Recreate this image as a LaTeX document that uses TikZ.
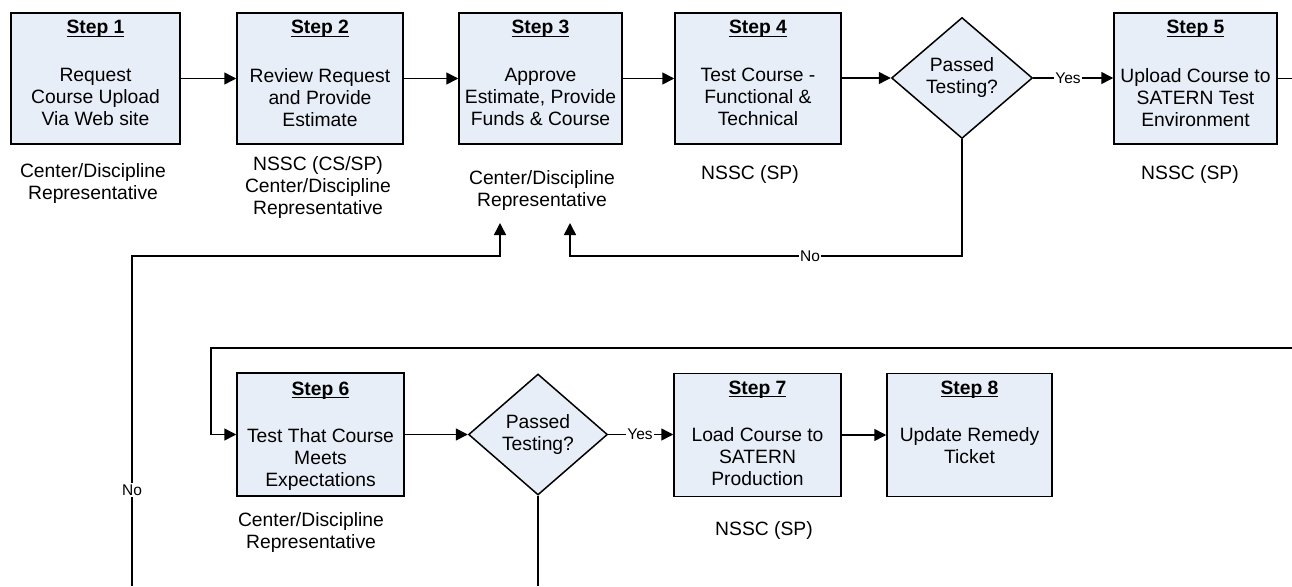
\documentclass[tikz,border=0pt]{standalone}
\usepackage{fontspec}
\setmainfont{Liberation Sans}
\usetikzlibrary{arrows.meta,shapes.geometric}
\definecolor{boxfill}{RGB}{232,238,248}
% bold step heading with a heavier underline
\newcommand\stephead[1]{\setbox0\hbox{\bfseries #1}\rlap{\rule[-3.4pt]{\wd0}{1.4pt}}\box0}

\begin{document}
\begin{tikzpicture}[x=1pt,y=-1pt,
  every node/.style={font=\fontsize{19.3}{22}\selectfont},
  stepbox/.style={draw, fill=boxfill, line width=1.5, minimum width=166, minimum height=131, inner sep=0},
  lowbox/.style={stepbox, minimum height=123},
  decision/.style={diamond, draw, fill=boxfill, line width=1.5, minimum width=141, minimum height=121, inner sep=0, align=center},
  steptitle/.style={inner sep=0, anchor=base},
  body/.style={align=center, inner sep=0, anchor=north},
  role/.style={align=center, inner sep=0, anchor=north},
  flow/.style={line width=1.5, -{Triangle[length=12,width=12]}},
  link/.style={line width=1.5},
  tag/.style={font=\fontsize{15.5}{17}\selectfont, fill=white, inner sep=1.2},
]
\fill[white] (0,0) rectangle (1292,586);
\useasboundingbox (0,0) rectangle (1292,586);

% ---- upper row ----
\node[stepbox, minimum width=169] (s1) at (95.5,78.5) {};
\node[stepbox] (s2) at (320,78.5) {};
\node[stepbox, minimum width=163] (s3) at (540.5,78.5) {};
\node[stepbox] (s4) at (758,78.5) {};
\node[decision] (d1) at (962,78) {Passed\\Testing?};
\node[stepbox, minimum width=163] (s5) at (1195.5,78.5) {};

\node[steptitle] (t1) at (95.5,34) {\stephead{Step 1}};
\node[steptitle] (t2) at (320,34) {\stephead{Step 2}};
\node[steptitle] (t3) at (540.5,34) {\stephead{Step 3}};
\node[steptitle] (t4) at (758,34) {\stephead{Step 4}};
\node[steptitle] (t5) at (1195.5,34) {\stephead{Step 5}};

\node[body] (b1) at (95.5,68) {Request\\Course Upload\\Via Web site};
\node[body] (b2) at (320,68) {Review Request\\and Provide\\Estimate};
\node[body] (b3) at (540.5,68) {Approve\\Estimate, Provide\\Funds \& Course};
\node[body] (b4) at (758,68) {Test Course -\\Functional \&\\Technical};
\node[body] (b5) at (1195.5,68) {Upload Course to\\SATERN Test\\Environment};

\node[role] (r1) at (93,163) {Center/Discipline\\Representative};
\node[role] (r2) at (318,156) {NSSC (CS/SP)\\Center/Discipline\\Representative};
\node[role] (r3) at (542,170) {Center/Discipline\\Representative};
\node[role] (r4) at (750,165) {NSSC (SP)};
\node[role] (r5) at (1190,165) {NSSC (SP)};

% ---- lower row ----
\node[lowbox, minimum width=167] (s6) at (320.5,434.5) {};
\node[decision, minimum width=139] (d2) at (538,434.5) {Passed\\Testing?};
\node[lowbox, minimum width=167] (s7) at (757.5,435) {};
\node[lowbox, minimum width=165] (s8) at (969.5,435) {};

\node[steptitle] (t6) at (320.5,395) {\stephead{Step 6}};
\node[steptitle] (t7) at (757.5,394) {\stephead{Step 7}};
\node[steptitle] (t8) at (969.5,394) {\stephead{Step 8}};

\node[body] (b6) at (320.5,428) {Test That Course\\Meets\\Expectations};
\node[body] (b7) at (757.5,427) {Load Course to\\SATERN\\Production};
\node[body] (b8) at (969.5,427) {Update Remedy\\Ticket};

\node[role] (r6) at (311,512) {Center/Discipline\\Representative};
\node[role] (r7) at (764,521) {NSSC (SP)};

% ---- connector end points ----
\coordinate (out5) at (1292,78.5);
\coordinate (in6) at (1292,348);
\coordinate (bend6) at (211,348);
\coordinate (ret3a) at (500,223);
\coordinate (ret3b) at (570,223);
\coordinate (bendno1) at (962,256);
\coordinate (startno2) at (132,586);
\coordinate (bendno2) at (132,256);
\coordinate (out7) at (538,586);

% ---- upper row connectors ----
\draw[flow] (s1) -- (s2);
\draw[flow] (s2) -- (s3);
\draw[flow] (s3) -- (s4);
\draw[flow] (s4.east |- d1.west) -- (d1.west);
\draw[flow] (d1.east) -- (s5.west |- d1.east);
\node[tag] (yes1) at (1068,78) {Yes};
\draw[link] (s5.east) -- (out5);
\draw[flow] (d1.south) -- (bendno1) -| (ret3b);
\node[tag] (no1) at (810,256) {No};

% ---- lower row connectors ----
\draw[flow] (in6) -- (bend6) |- (s6.west);
\draw[flow] (s6.east) -- (d2.west);
\draw[flow] (d2.east) -- (s7.west |- d2.east);
\node[tag] (yes2) at (640,434.5) {Yes};
\draw[flow] (s7) -- (s8);
\draw[link] (d2.south) -- (out7);
\draw[flow] (startno2) -- (bendno2) -| (ret3a);
\node[tag] (no2) at (132,490) {No};
\end{tikzpicture}
\end{document}
